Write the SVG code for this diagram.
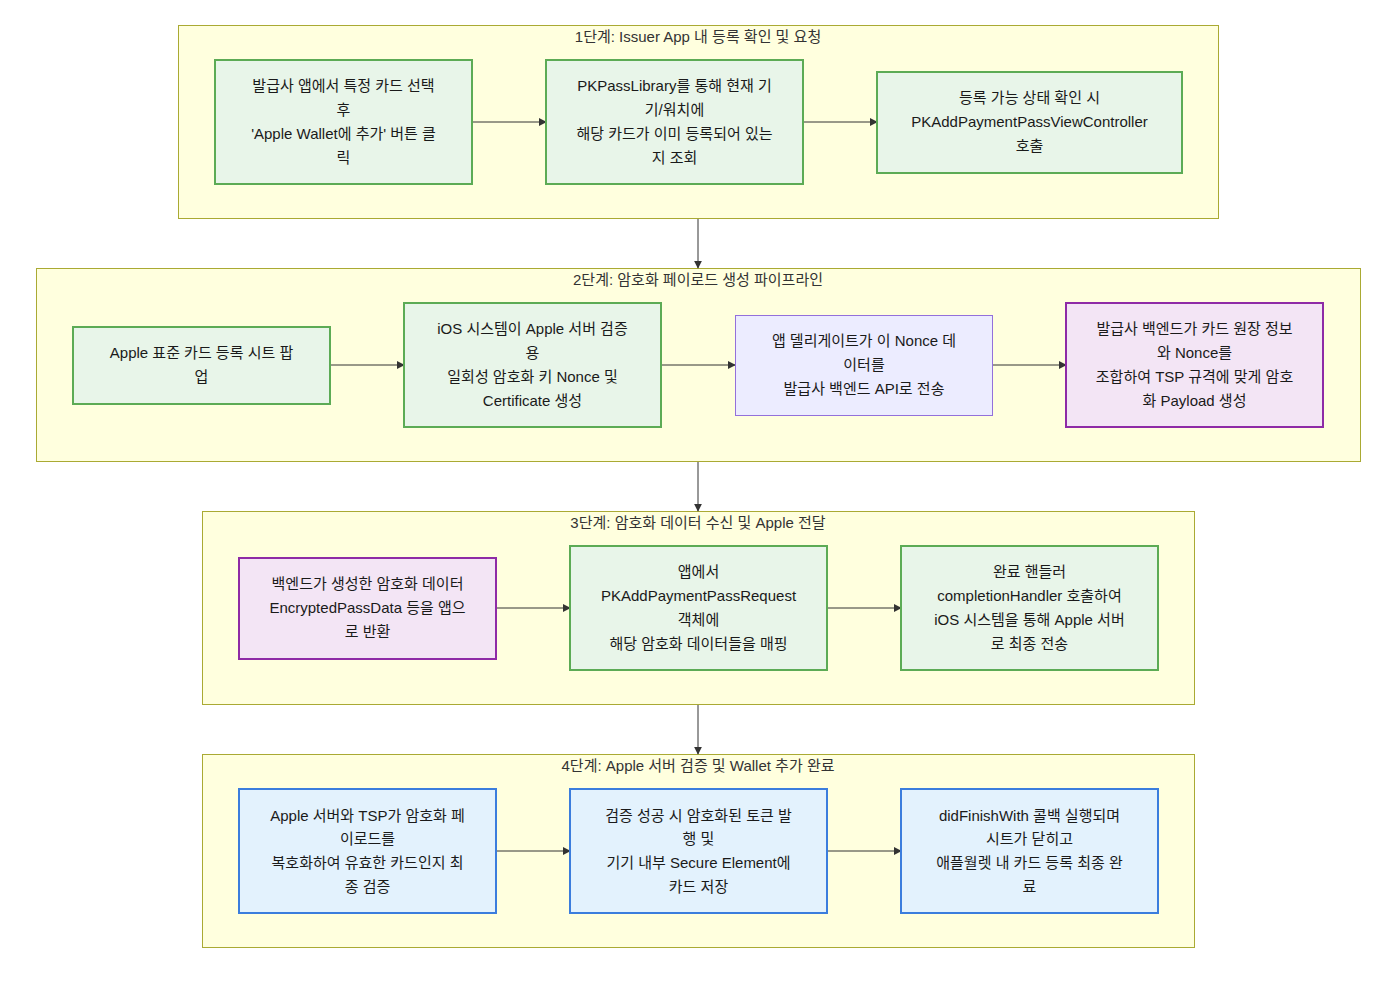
<svg xmlns="http://www.w3.org/2000/svg" width="1396" height="1000" viewBox="0 0 1396 1000">
<defs>
<marker id="arr" viewBox="0 0 10 10" refX="9" refY="5" markerWidth="8" markerHeight="8" markerUnits="userSpaceOnUse" orient="auto"><path d="M0,0 L10,5 L0,10 z" fill="#333"/></marker>
<style>
text{font-family:"Liberation Sans","Noto Sans CJK KR",sans-serif;font-size:15px;text-anchor:middle;fill:#1a1a1a}
.ct{fill:#333}
.cl{fill:#ffffde;stroke:#aaaa33;stroke-width:1}
.g{fill:#e8f5e9;stroke:#5cab55;stroke-width:2}
.p{fill:#f3e5f5;stroke:#8e2ba6;stroke-width:2}
.b{fill:#e3f2fd;stroke:#3b7ddd;stroke-width:2}
.l{fill:#ececff;stroke:#9370db;stroke-width:1}
.e{fill:none;stroke:#333;stroke-width:1;marker-end:url(#arr)}
</style>
</defs>
<rect width="1396" height="1000" fill="#fff"/>
<g id="clusters">
<g id="cluster1"><rect class="cl" x="178.5" y="25.5" width="1040" height="193"/><text class="ct" x="698" y="42">1단계: Issuer App 내 등록 확인 및 요청</text></g>
<g id="cluster2"><rect class="cl" x="36.5" y="268.5" width="1324" height="193"/><text class="ct" x="698" y="285">2단계: 암호화 페이로드 생성 파이프라인</text></g>
<g id="cluster3"><rect class="cl" x="202.5" y="511.5" width="992" height="193"/><text class="ct" x="698" y="528">3단계: 암호화 데이터 수신 및 Apple 전달</text></g>
<g id="cluster4"><rect class="cl" x="202.5" y="754.5" width="992" height="193"/><text class="ct" x="698" y="771">4단계: Apple 서버 검증 및 Wallet 추가 완료</text></g>
</g>
<g id="connectors">
<path class="e" d="M472,122 H546"/>
<path class="e" d="M803,122 H877"/>
<path class="e" d="M698,219 V268"/>
<path class="e" d="M330,365 H404"/>
<path class="e" d="M661,365 H735"/>
<path class="e" d="M992,365 H1066"/>
<path class="e" d="M698,462 V511"/>
<path class="e" d="M496,608 H570"/>
<path class="e" d="M827,608 H901"/>
<path class="e" d="M698,705 V754"/>
<path class="e" d="M496,851 H570"/>
<path class="e" d="M827,851 H901"/>
</g>
<g id="A1"><rect class="g" x="215" y="60" width="257" height="124"/><text x="343.5" y="91">발급사 앱에서 특정 카드 선택</text><text x="343.5" y="115">후</text><text x="343.5" y="139">'Apple Wallet에 추가' 버튼 클</text><text x="343.5" y="163">릭</text></g>
<g id="A2"><rect class="g" x="546" y="60" width="257" height="124"/><text x="674.5" y="91">PKPassLibrary를 통해 현재 기</text><text x="674.5" y="115">기/워치에</text><text x="674.5" y="139">해당 카드가 이미 등록되어 있는</text><text x="674.5" y="163">지 조회</text></g>
<g id="A3"><rect class="g" x="877" y="72" width="305" height="101"/><text x="1029.5" y="103">등록 가능 상태 확인 시</text><text x="1029.5" y="127">PKAddPaymentPassViewController</text><text x="1029.5" y="151">호출</text></g>
<g id="B1"><rect class="g" x="73" y="327" width="257" height="77"/><text x="201.5" y="358">Apple 표준 카드 등록 시트 팝</text><text x="201.5" y="382">업</text></g>
<g id="B2"><rect class="g" x="404" y="303" width="257" height="124"/><text x="532.5" y="334">iOS 시스템이 Apple 서버 검증</text><text x="532.5" y="358">용</text><text x="532.5" y="382">일회성 암호화 키 Nonce 및</text><text x="532.5" y="406">Certificate 생성</text></g>
<g id="B3"><rect class="l" x="735.5" y="315.5" width="257" height="100"/><text x="864" y="346">앱 델리게이트가 이 Nonce 데</text><text x="864" y="370">이터를</text><text x="864" y="394">발급사 백엔드 API로 전송</text></g>
<g id="B4"><rect class="p" x="1066" y="303" width="257" height="124"/><text x="1194.5" y="334">발급사 백엔드가 카드 원장 정보</text><text x="1194.5" y="358">와 Nonce를</text><text x="1194.5" y="382">조합하여 TSP 규격에 맞게 암호</text><text x="1194.5" y="406">화 Payload 생성</text></g>
<g id="C1"><rect class="p" x="239" y="558" width="257" height="101"/><text x="367.5" y="589">백엔드가 생성한 암호화 데이터</text><text x="367.5" y="613">EncryptedPassData 등을 앱으</text><text x="367.5" y="637">로 반환</text></g>
<g id="C2"><rect class="g" x="570" y="546" width="257" height="124"/><text x="698.5" y="577">앱에서</text><text x="698.5" y="601">PKAddPaymentPassRequest</text><text x="698.5" y="625">객체에</text><text x="698.5" y="649">해당 암호화 데이터들을 매핑</text></g>
<g id="C3"><rect class="g" x="901" y="546" width="257" height="124"/><text x="1029.5" y="577">완료 핸들러</text><text x="1029.5" y="601">completionHandler 호출하여</text><text x="1029.5" y="625">iOS 시스템을 통해 Apple 서버</text><text x="1029.5" y="649">로 최종 전송</text></g>
<g id="D1"><rect class="b" x="239" y="789" width="257" height="124"/><text x="367.5" y="821">Apple 서버와 TSP가 암호화 페</text><text x="367.5" y="844">이로드를</text><text x="367.5" y="868">복호화하여 유효한 카드인지 최</text><text x="367.5" y="892">종 검증</text></g>
<g id="D2"><rect class="b" x="570" y="789" width="257" height="124"/><text x="698.5" y="821">검증 성공 시 암호화된 토큰 발</text><text x="698.5" y="844">행 및</text><text x="698.5" y="868">기기 내부 Secure Element에</text><text x="698.5" y="892">카드 저장</text></g>
<g id="D3"><rect class="b" x="901" y="789" width="257" height="124"/><text x="1029.5" y="821">didFinishWith 콜백 실행되며</text><text x="1029.5" y="844">시트가 닫히고</text><text x="1029.5" y="868">애플월렛 내 카드 등록 최종 완</text><text x="1029.5" y="892">료</text></g>
</svg>
